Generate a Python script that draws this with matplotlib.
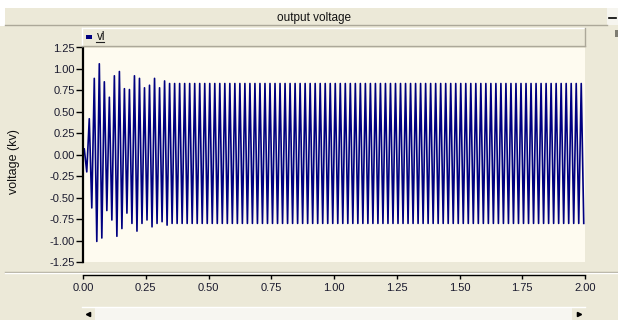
import numpy as np
import matplotlib
matplotlib.use('Agg')
from matplotlib import pyplot as plt
from matplotlib.patches import Rectangle
from matplotlib.lines import Line2D

plt.rcParams['font.family'] = ['Liberation Sans', 'DejaVu Sans']

# output voltage vl (kV), 50 Hz, one positive and one negative peak per cycle
freq = 50.0
n_cycles = 100
pos_transient = [0.07, 0.42, 0.89, 1.06, 0.85, 0.67, 0.92, 0.97, 0.77, 0.76,
                 0.92, 0.89, 0.78, 0.81, 0.89, 0.78, 0.86, 0.83]
neg_transient = [-0.20, -0.62, -1.01, -0.97, -0.65, -0.76, -0.95, -0.86, -0.68, -0.80,
                 -0.89, -0.80, -0.76, -0.84, -0.80, -0.78, -0.82, -0.80]
pos_steady = 0.83
neg_steady = -0.80

x_ticks = [0.0, 0.25, 0.5, 0.75, 1.0, 1.25, 1.5, 1.75, 2.0]
y_ticks = [-1.25, -1.0, -0.75, -0.5, -0.25, 0.0, 0.25, 0.5, 0.75, 1.0, 1.25]

BG = '#ECE9D8'
EDGE = '#ACA899'
W, H = 618, 320


def fx(px):
    return px / W


def fy(py):
    return 1 - py / H


def box(x0, y0, x1, y1, **kw):
    r = Rectangle((fx(x0), fy(y1)), fx(x1) - fx(x0), fy(y0) - fy(y1),
                  transform=fig.transFigure, **kw)
    fig.add_artist(r)


def hline(x0, x1, y, color, lw=1.0):
    fig.add_artist(Line2D([fx(x0), fx(x1)], [fy(y), fy(y)], color=color, lw=lw,
                          transform=fig.transFigure))


def vline(x, y0, y1, color, lw=1.0):
    fig.add_artist(Line2D([fx(x), fx(x)], [fy(y0), fy(y1)], color=color, lw=lw,
                          transform=fig.transFigure))


# build the peak sequence
pos = pos_transient + [pos_steady] * (n_cycles - len(pos_transient))
neg = neg_transient + [neg_steady] * (n_cycles - len(neg_transient))
k = np.arange(n_cycles)
t = np.empty(2 * n_cycles + 1)
v = np.empty(2 * n_cycles + 1)
t[0], v[0] = 0.0, 0.0
t[1::2] = (k + 0.25) / freq
t[2::2] = (k + 0.75) / freq
v[1::2] = pos
v[2::2] = neg

fig = plt.figure(figsize=(W / 100, H / 100), dpi=100, facecolor=BG)

# window chrome
box(0, 0, W, 8, facecolor='white', edgecolor='none')
box(0, 0, 5, 26, facecolor='white', edgecolor='none')
box(5, 8, 607, 25, facecolor=BG, edgecolor='none')
hline(5, 607, 25, EDGE)
box(607, 8, 618, 25, facecolor='#F6F5EF', edgecolor='none')
hline(609, 616, 18, 'black', lw=1.2)
box(615, 30, 618, 37, facecolor='#7F7D72', edgecolor='none')
fig.text(fx(314), fy(17.5), 'output voltage', fontsize=8.5, ha='center', va='center',
         color='#111111')

# legend strip
box(82, 28, 585, 46, facecolor=BG, edgecolor='none')
hline(82, 585, 28, 'white')
vline(82, 28, 46, 'white')
hline(82, 585, 46, EDGE)
vline(585, 28, 46, EDGE)
box(86, 35, 92, 39, facecolor='#000080', edgecolor='none')
fig.text(fx(97), fy(37), 'vl', fontsize=8.5, ha='left', va='center', color='#111111')
hline(96, 104, 42, '#222222', lw=0.8)

# main plot
ax = fig.add_axes([fx(83), fy(262), fx(585) - fx(83), fy(47.5) - fy(262)])
ax.set_facecolor('#FEFBF0')
ax.plot(t, v, color='#000080', lw=1.2)
ax.set_xlim(0, 2.0)
ax.set_ylim(-1.25, 1.25)
ax.set_yticks(y_ticks)
ax.set_yticklabels(['%.2f' % y for y in y_ticks])
ax.set_xticks([])
for s in ['top', 'right', 'bottom']:
    ax.spines[s].set_visible(False)
ax.spines['left'].set_linewidth(1.6)
ax.spines['left'].set_color('black')
ax.tick_params(axis='y', length=5, width=1, labelsize=8, pad=1, colors='black',
               labelcolor='#1a1a2e')

fig.text(fx(14), fy(162), 'voltage (kv)', rotation=90, fontsize=9, ha='center',
         va='center', color='#111111')

# separator between plot and time axis
hline(5, W, 271.5, EDGE)
hline(5, W, 272.5, 'white')

# time axis
axx = fig.add_axes([fx(83), fy(275), fx(585) - fx(83), 1.0 / H])
axx.set_facecolor('none')
axx.set_xlim(0, 2.0)
axx.set_xticks(x_ticks)
axx.set_xticklabels(['%.2f' % x for x in x_ticks])
axx.set_yticks([])
for s in ['top', 'right', 'left']:
    axx.spines[s].set_visible(False)
axx.spines['bottom'].set_linewidth(1.0)
axx.tick_params(axis='x', length=3, width=1, labelsize=8, pad=3,
                labelcolor='#1a1a2e')

# scrollbar
box(82, 307, 585, 320, facecolor='#F7F6F1', edgecolor='none')
hline(82, 585, 307, 'white')
box(82, 307, 95, 320, facecolor=BG, edgecolor='none')
box(572, 307, 585, 320, facecolor=BG, edgecolor='none')
fig.add_artist(Line2D([fx(88)], [fy(313.5)], marker='<', markersize=3, color='black',
                      transform=fig.transFigure))
fig.add_artist(Line2D([fx(579)], [fy(313.5)], marker='>', markersize=3, color='black',
                      transform=fig.transFigure))

fig.savefig('out.png', dpi=100, facecolor=BG)
